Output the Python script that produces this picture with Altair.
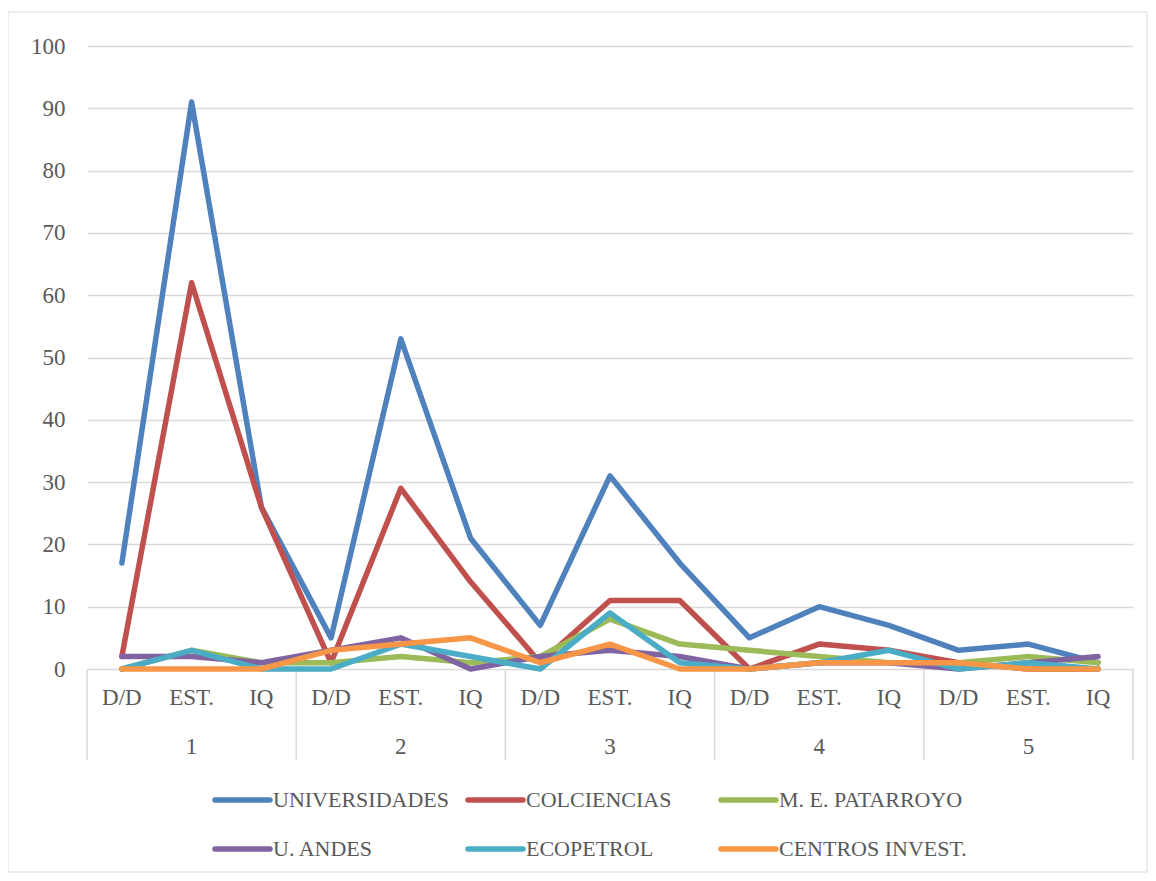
import altair as alt
import pandas as pd

categories = ["D/D", "EST.", "IQ"]
groups = ["1", "2", "3", "4", "5"]

series_names = ["UNIVERSIDADES", "COLCIENCIAS", "M. E. PATARROYO",
                "U. ANDES", "ECOPETROL", "CENTROS INVEST."]
colors = ["#4F81BD", "#C0504D", "#9BBB59", "#8064A2", "#4BACC6", "#F79646"]

universidades = [17, 91, 26, 5, 53, 21, 7, 31, 17, 5, 10, 7, 3, 4, 1]
colciencias = [2, 62, 26, 1, 29, 14, 1, 11, 11, 0, 4, 3, 1, 0, 0]
patarroyo = [0, 3, 1, 1, 2, 1, 2, 8, 4, 3, 2, 1, 1, 2, 1]
uandes = [2, 2, 1, 3, 5, 0, 2, 3, 2, 0, 1, 1, 0, 1, 2]
ecopetrol = [0, 3, 0, 0, 4, 2, 0, 9, 1, 0, 1, 3, 0, 1, 0]
centros = [0, 0, 0, 3, 4, 5, 1, 4, 0, 0, 1, 1, 1, 0, 0]

all_values = [universidades, colciencias, patarroyo, uandes, ecopetrol, centros]

rows = []
for name, vals in zip(series_names, all_values):
    for i, v in enumerate(vals):
        rows.append({"idx": i, "series": name, "value": v})
df = pd.DataFrame(rows)

cat_df = pd.DataFrame({"idx": list(range(15)),
                       "label": [categories[i % 3] for i in range(15)]})
grp_df = pd.DataFrame({"idx": [g * 3 + 1 for g in range(5)], "label": groups})
sep_df = pd.DataFrame({"idx": [g * 3 - 0.5 for g in range(6)]})
leg_df = pd.DataFrame({"series": series_names,
                       "col": [i % 3 for i in range(6)],
                       "row": [i // 3 for i in range(6)]})

W, H = 1046, 623
FONT = "Liberation Serif"
GREY = "#595959"
GRID = "#d9d9d9"

xscale = alt.Scale(domain=[-0.5, 14.5], nice=False, zero=False)
cscale = alt.Scale(domain=series_names, range=colors)

border = alt.Chart(pd.DataFrame({"a": [0]})).mark_rect(
    fill="transparent", stroke=GRID, strokeWidth=1
).encode(x=alt.value(-79), x2=alt.value(1060), y=alt.value(-34), y2=alt.value(826))

lines = alt.Chart(df).mark_line(
    strokeWidth=5.5, strokeCap="round", strokeJoin="round"
).encode(
    x=alt.X("idx:Q", scale=xscale, axis=None),
    y=alt.Y("value:Q", scale=alt.Scale(domain=[0, 100], nice=False),
            axis=alt.Axis(values=list(range(0, 101, 10)), grid=True, gridColor=GRID,
                          gridWidth=1.5, domain=False, ticks=False, title=None,
                          labelFont=FONT, labelFontSize=23, labelColor=GREY,
                          labelPadding=22)),
    color=alt.Color("series:N", scale=cscale, sort=series_names, legend=None),
)

cat_text = alt.Chart(cat_df).mark_text(
    font=FONT, fontSize=23, color=GREY, baseline="middle"
).encode(x=alt.X("idx:Q", scale=xscale, axis=None), y=alt.value(H + 29),
         text="label:N")

grp_text = alt.Chart(grp_df).mark_text(
    font=FONT, fontSize=23, color=GREY, baseline="middle"
).encode(x=alt.X("idx:Q", scale=xscale, axis=None), y=alt.value(H + 78),
         text="label:N")

seps = alt.Chart(sep_df).mark_rule(color=GRID, strokeWidth=1.5).encode(
    x=alt.X("idx:Q", scale=xscale, axis=None), y=alt.value(H), y2=alt.value(H + 91)
)

lx = alt.X("col:Q", scale=alt.Scale(domain=[0, 1], range=[128, 381]), axis=None)
ly = alt.Y("row:Q", scale=alt.Scale(domain=[0, 1], range=[754, 803]), axis=None)

leg_sym = alt.Chart(leg_df).mark_point(
    shape="stroke", size=3025, strokeWidth=5.5, filled=False, opacity=1,
    strokeCap="round", xOffset=27.5
).encode(x=lx, y=ly,
         color=alt.Color("series:N", scale=cscale, legend=None))

leg_txt = alt.Chart(leg_df).mark_text(
    font=FONT, fontSize=22, color=GREY, align="left", baseline="middle", dx=58
).encode(x=lx, y=ly, text="series:N")

chart = alt.layer(border, seps, lines, cat_text, grp_text, leg_sym, leg_txt).resolve_scale(
    x="independent", y="independent"
).properties(
    width=W, height=H,
    autosize=alt.AutoSizeParams(type="none"),
    padding={"left": 79, "top": 38, "right": 15, "bottom": 204},
    background="white",
).configure_view(stroke=None)

chart.save("out.html", embed_options={"renderer": "svg", "actions": False})
